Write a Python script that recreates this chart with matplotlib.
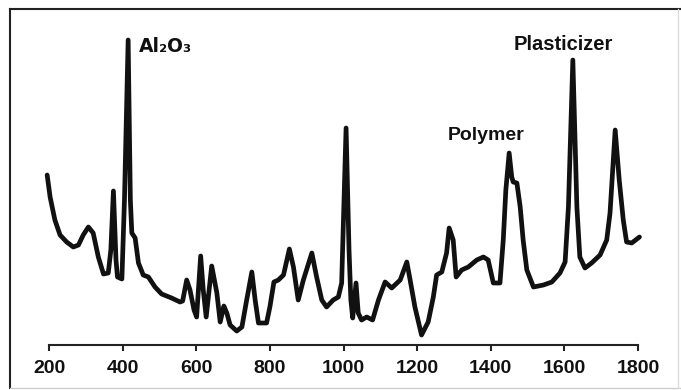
import matplotlib
matplotlib.use("Agg")
import matplotlib.pyplot as plt
from matplotlib.lines import Line2D

# spectrum (wavenumber, arbitrary intensity)
wavenumber = [195, 203, 216, 230, 248, 266, 280, 293, 307, 320, 334, 348, 361, 368,
              375, 382, 386, 398, 405, 415, 421, 425, 434, 443, 456, 470, 488, 506,
              533, 556, 563, 574, 583, 594, 601, 612, 619, 627, 642, 656, 665, 675,
              683, 692, 710, 724, 737, 751, 760, 769, 791, 800, 811, 823, 837, 853,
              864, 877, 891, 914, 927, 941, 954, 972, 986, 995, 1007, 1015, 1020,
              1025, 1034, 1040, 1049, 1063, 1079, 1095, 1113, 1131, 1154, 1172, 1181,
              1194, 1212, 1230, 1244, 1253, 1267, 1280, 1287, 1298, 1306, 1321, 1339,
              1362, 1380, 1393, 1407, 1425, 1434, 1441, 1450, 1457, 1461, 1471, 1480,
              1488, 1498, 1516, 1543, 1566, 1588, 1602, 1611, 1623, 1634, 1642, 1656,
              1674, 1697, 1715, 1724, 1738, 1749, 1760, 1769, 1783, 1804]
intensity = [1.70, 1.48, 1.25, 1.10, 1.03, 0.98, 1.00, 1.10, 1.18, 1.12, 0.88, 0.71,
             0.72, 0.95, 1.54, 0.85, 0.68, 0.66, 1.45, 3.05, 1.45, 1.12, 1.07, 0.82,
             0.70, 0.68, 0.58, 0.51, 0.47, 0.43, 0.44, 0.65, 0.55, 0.35, 0.28, 0.89,
             0.55, 0.28, 0.79, 0.52, 0.23, 0.39, 0.32, 0.20, 0.14, 0.18, 0.45, 0.73,
             0.45, 0.22, 0.22, 0.38, 0.63, 0.65, 0.70, 0.96, 0.78, 0.45, 0.65, 0.92,
             0.68, 0.45, 0.38, 0.45, 0.48, 0.62, 2.17, 0.95, 0.45, 0.27, 0.62, 0.32,
             0.25, 0.28, 0.25, 0.45, 0.63, 0.57, 0.65, 0.83, 0.65, 0.38, 0.10, 0.23,
             0.48, 0.70, 0.73, 0.92, 1.17, 1.05, 0.68, 0.75, 0.78, 0.85, 0.88, 0.85,
             0.62, 0.62, 1.05, 1.55, 1.92, 1.68, 1.63, 1.62, 1.38, 1.05, 0.75, 0.58,
             0.60, 0.63, 0.72, 0.83, 1.38, 2.85, 1.38, 0.88, 0.77, 0.82, 0.90, 1.05,
             1.32, 2.15, 1.65, 1.25, 1.03, 1.02, 1.08]

xticks = [200, 400, 600, 800, 1000, 1200, 1400, 1600, 1800]
peak_labels = ["Al\u2082O\u2083", "Polymer", "Plasticizer"]
peak_pos = [(445, 2.98), (1387, 2.09), (1596, 3.00)]

W, H = 681, 390
fig = plt.figure(figsize=(W / 100, H / 100), dpi=100)
ax = fig.add_axes([49 / W, 45 / H, (638 - 49) / W, (345 - 9) / H])
ax.set_xlim(200, 1800)
ax.set_ylim(0, 3.36)

ax.plot(wavenumber, intensity, color="#111111", lw=3.4,
        solid_joinstyle="round", solid_capstyle="round", clip_on=False)

for sp in ["top", "left", "right"]:
    ax.spines[sp].set_visible(False)
ax.spines["bottom"].set_bounds(200, 1800)
ax.spines["bottom"].set_linewidth(1.5)
ax.spines["bottom"].set_color("#222222")
ax.set_yticks([])
ax.set_xticks(xticks)
ax.tick_params(axis="x", direction="out", length=4, width=1.5, color="#222222", pad=7)
for lab in ax.get_xticklabels():
    lab.set_fontfamily("Liberation Sans")
    lab.set_fontweight("bold")
    lab.set_fontsize(14)
    lab.set_color("#111111")

# peak annotations
ax.text(peak_pos[0][0], peak_pos[0][1], peak_labels[0], ha="left", va="center",
        fontsize=13.5, fontweight="bold", family="DejaVu Sans", color="#111111")
ax.text(peak_pos[1][0], peak_pos[1][1], peak_labels[1], ha="center", va="center",
        fontsize=14, fontweight="bold", family="Liberation Sans", color="#111111")
ax.text(peak_pos[2][0], peak_pos[2][1], peak_labels[2], ha="center", va="center",
        fontsize=14.5, fontweight="bold", family="Liberation Sans", color="#111111")

# outer frame: dark top and left edges, faint bottom and right
fig.add_artist(Line2D([10 / W, 1.0], [1 - 9 / H, 1 - 9 / H], color="#222222", lw=1.5))
fig.add_artist(Line2D([10 / W, 10 / W], [1 - 9 / H, 1 - 388 / H], color="#222222", lw=1.5))
fig.add_artist(Line2D([10 / W, 1.0], [1 - 388 / H, 1 - 388 / H], color="#cccccc", lw=1.0))
fig.add_artist(Line2D([678 / W, 678 / W], [1 - 9 / H, 1 - 388 / H], color="#dddddd", lw=1.0))

fig.savefig("out.png", dpi=100)
